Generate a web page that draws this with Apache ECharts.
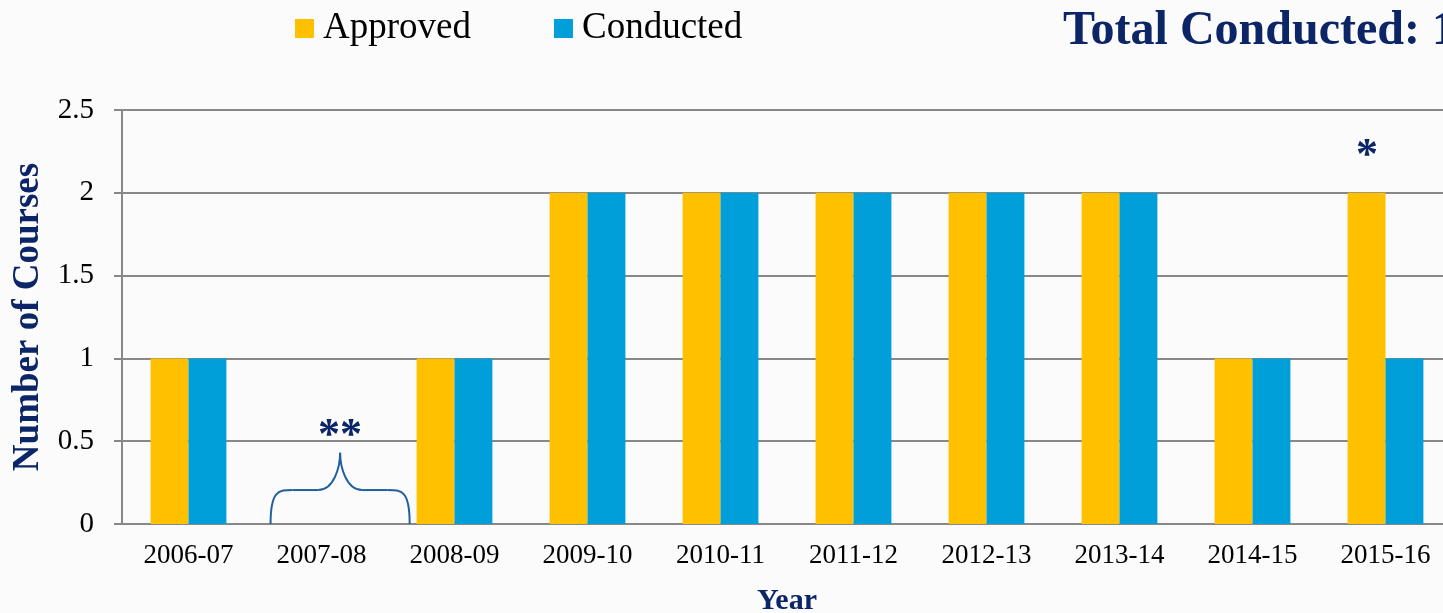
<!DOCTYPE html>
<html>
<head>
<meta charset="utf-8">
<script src="https://cdn.jsdelivr.net/npm/echarts@6/dist/echarts.min.js"></script>
<style>
html,body{margin:0;padding:0;background:#fbfbfb;overflow:hidden;}
#c{width:1443px;height:613px;}
</style>
</head>
<body>
<div id="c"></div>
<script>
var categories = ['2006-07','2007-08','2008-09','2009-10','2010-11','2011-12','2012-13','2013-14','2014-15','2015-16'];
var approved  = [1, 0, 1, 2, 2, 2, 2, 2, 1, 2];
var conducted = [1, 0, 1, 2, 2, 2, 2, 2, 1, 1];
var yTicks = [0, 0.5, 1, 1.5, 2, 2.5];
var titleText = 'Total Conducted: 14';
// annotations: category index and mark text
var noteIndex = [1, 9];
var noteText = ['**', '*'];

var serif = "'Liberation Serif','Times New Roman',Times,serif";
var navy = '#0b2566';

var chart = echarts.init(document.getElementById('c'), null, {renderer:'canvas', width: 1443, height: 613});
chart.setOption({
  backgroundColor: '#fbfbfb',
  animation: false,
  graphic: [{
    type: 'text', x: 1063, y: 8,
    style: {text: titleText, font: 'bold 48px ' + serif, fill: navy, textVerticalAlign: 'top'}
  }],
  legend: {
    left: 290, top: 5, itemWidth: 19, itemHeight: 19, itemGap: 83,
    icon: 'rect',
    textStyle: {fontFamily: serif, fontSize: 37, color: '#000', padding: [0,0,0,4]},
    data: ['Approved','Conducted']
  },
  grid: {left: 122, top: 110, height: 414, width: 1330, containLabel: false, outerBoundsMode: 'none'},
  xAxis: {
    type: 'category', data: categories,
    name: 'Year', nameLocation: 'middle', nameGap: 62,
    nameTextStyle: {fontFamily: serif, fontWeight: 'bold', fontSize: 30, color: navy},
    axisLine: {lineStyle: {color: '#888', width: 2}},
    axisTick: {show: false},
    axisLabel: {fontFamily: serif, fontSize: 27, color: '#000', margin: 18, interval: 0}
  },
  yAxis: {
    type: 'value', min: 0, max: 2.5, interval: 0.5,
    name: 'Number of Courses', nameLocation: 'middle', nameGap: 75,
    nameTextStyle: {fontFamily: serif, fontWeight: 'bold', fontSize: 37, color: navy},
    axisLine: {show: true, lineStyle: {color: '#888', width: 2}},
    axisTick: {show: true, length: 8, lineStyle: {color: '#888', width: 2}},
    splitLine: {lineStyle: {color: '#888', width: 2}},
    axisLabel: {fontFamily: serif, fontSize: 29, color: '#000', margin: 28,
      formatter: function(v){ return yTicks.indexOf(v) >= 0 ? String(v) : ''; }}
  },
  series: [
    {name: 'Approved', type: 'bar', data: approved, barGap: '0%', barCategoryGap: '43%',
     itemStyle: {color: '#FFC000'}},
    {name: 'Conducted', type: 'bar', data: conducted, barGap: '0%', barCategoryGap: '43%',
     itemStyle: {color: '#009FDA'}},
    {name: 'notes', type: 'custom', silent: true, z: 10,
     data: noteIndex,
     renderItem: function(params, api){
       var idx = noteIndex[params.dataIndex];
       var txt = noteText[params.dataIndex];
       var band = api.size([1, 0])[0];
       var base = api.coord([idx, 0]);
       if (params.dataIndex === 0) {
         var cx = base[0] + band * 0.14;
         var hw = band * 0.523;
         var yb = base[1];
         var ym = api.coord([idx, 0.205])[1];
         var yt = api.coord([idx, 0.43])[1];
         var yl = api.coord([idx, 0.525])[1];
         var x0 = cx - hw, x1 = cx + hw;
         var st = {stroke: '#1f5f9f', lineWidth: 2, fill: null};
         return {type: 'group', children: [
           {type: 'bezierCurve', shape: {x1: x0, y1: yb, cpx1: x0, cpy1: ym, cpx2: x0 + 8, cpy2: ym, x2: x0 + 22, y2: ym}, style: st},
           {type: 'line', shape: {x1: x0 + 22, y1: ym, x2: cx - 22, y2: ym}, style: st},
           {type: 'bezierCurve', shape: {x1: cx - 22, y1: ym, cpx1: cx - 6, cpy1: ym, cpx2: cx, cpy2: yt + 14, x2: cx, y2: yt}, style: st},
           {type: 'bezierCurve', shape: {x1: cx, y1: yt, cpx1: cx, cpy1: yt + 14, cpx2: cx + 6, cpy2: ym, x2: cx + 22, y2: ym}, style: st},
           {type: 'line', shape: {x1: cx + 22, y1: ym, x2: x1 - 22, y2: ym}, style: st},
           {type: 'bezierCurve', shape: {x1: x1 - 22, y1: ym, cpx1: x1 - 8, cpy1: ym, cpx2: x1, cpy2: ym, x2: x1, y2: yb}, style: st},
           {type: 'text', style: {text: txt, x: cx, y: yl, align: 'center', verticalAlign: 'middle',
             font: 'bold 44px ' + serif, fill: navy}}
         ]};
       } else {
         var p = api.coord([idx, 2.22]);
         return {type: 'text', style: {text: txt, x: p[0] - band * 0.14, y: p[1], align: 'center', verticalAlign: 'middle',
           font: 'bold 44px ' + serif, fill: navy}};
       }
     }}
  ]
});
</script>
</body>
</html>
